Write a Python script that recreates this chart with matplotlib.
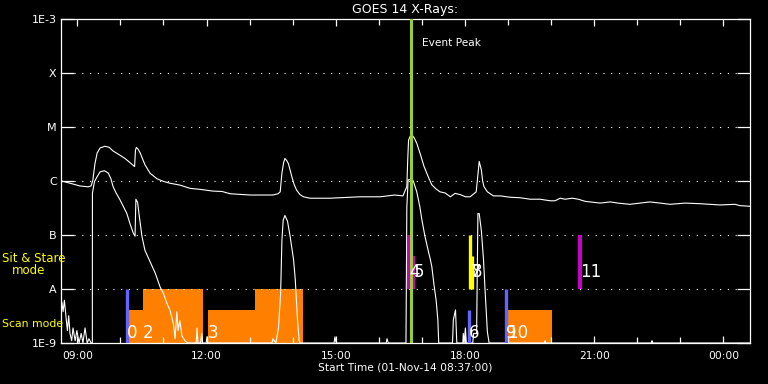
import matplotlib
matplotlib.use("Agg")
import matplotlib.pyplot as plt

# GOES 14 X-ray flux, 01-Nov-14 (time in decimal hours of the day, W/m^2)
long_t = [8.617, 8.83, 9.06, 9.25, 9.32, 9.36, 9.41, 9.46, 9.53, 9.64, 9.74, 9.83,
          9.99, 10.11, 10.22, 10.33, 10.35, 10.37, 10.41, 10.46, 10.57, 10.69, 10.85,
          10.99, 11.15, 11.38, 11.62, 11.85, 12.15, 12.36, 12.55, 13.01, 13.54, 13.66,
          13.71, 13.75, 13.79, 13.82, 13.86, 13.90, 13.94, 13.98, 14.03, 14.09, 14.17,
          14.25, 14.40, 14.87, 15.10, 15.56, 16.03, 16.37, 16.56, 16.65, 16.67, 16.69,
          16.73, 16.77, 16.82, 16.88, 16.96, 17.05, 17.16, 17.23, 17.33, 17.42, 17.54,
          17.66, 17.77, 17.89, 18.01, 18.12, 18.26, 18.30, 18.33, 18.38, 18.41, 18.44,
          18.52, 18.66, 18.82, 19.05, 19.28, 19.51, 19.74, 19.98, 20.09, 20.21, 20.32,
          20.49, 20.63, 20.79, 21.14, 21.37, 21.55, 21.83, 22.29, 22.53, 22.76, 23.11,
          23.45, 23.92, 24.27, 24.38, 24.62]
long_f = [1.01e-6, 9.1e-7, 8.1e-7, 7.8e-7, 8.1e-7, 1.03e-6, 2.1e-6, 3.3e-6, 4.1e-6,
          4.4e-6, 4.2e-6, 3.6e-6, 3.0e-6, 2.6e-6, 2.2e-6, 1.85e-6, 3.7e-6, 4.2e-6, 3.9e-6,
          3.3e-6, 2.0e-6, 1.39e-6, 1.1e-6, 9.9e-7, 9.1e-7, 8.4e-7, 7.3e-7, 7.0e-7, 6.5e-7,
          6.4e-7, 5.8e-7, 5.5e-7, 5.5e-7, 5.8e-7, 6.3e-7, 1.4e-6, 2.2e-6, 2.6e-6, 2.4e-6,
          2.1e-6, 1.6e-6, 1.2e-6, 8.8e-7, 6.8e-7, 5.6e-7, 5.1e-7, 4.8e-7, 4.8e-7, 4.9e-7,
          5.1e-7, 5.1e-7, 5.5e-7, 5.3e-7, 7.9e-7, 2.4e-6, 5.7e-6, 6.8e-6, 7.1e-6, 6.3e-6,
          5.0e-6, 3.2e-6, 1.85e-6, 1.13e-6, 8.5e-7, 7.1e-7, 6.3e-7, 6.0e-7, 5.1e-7, 5.9e-7,
          5.6e-7, 5.1e-7, 5.1e-7, 6.3e-7, 1.3e-6, 2.3e-6, 1.6e-6, 1.0e-6, 7.9e-7, 6.3e-7,
          5.3e-7, 5.3e-7, 5.0e-7, 4.9e-7, 4.6e-7, 4.6e-7, 4.3e-7, 4.3e-7, 4.8e-7, 4.6e-7,
          4.8e-7, 4.6e-7, 4.2e-7, 3.9e-7, 4.1e-7, 3.9e-7, 3.7e-7, 4.1e-7, 3.9e-7, 3.7e-7,
          3.9e-7, 3.8e-7, 3.6e-7, 3.7e-7, 3.5e-7, 3.4e-7]

short_t = [8.617, 8.64, 8.67, 8.70, 8.74, 8.77, 8.80, 8.83, 8.87, 8.90, 8.95, 8.99,
           9.04, 9.09, 9.13, 9.18, 9.23, 9.27, 9.32, 9.349, 9.351, 9.40, 9.46, 9.53,
           9.63, 9.72, 9.78, 9.83, 9.90, 9.99, 10.15, 10.22, 10.30, 10.34, 10.36, 10.40,
           10.44, 10.50, 10.57, 10.69, 10.81, 10.92, 11.00, 11.08, 11.15, 11.23, 11.27,
           11.31, 11.34, 11.38, 11.43, 11.50, 11.57, 11.76, 11.78, 11.80, 11.86, 11.89,
           11.91, 11.99, 12.01, 12.03, 13.52, 13.54, 13.61, 13.67, 13.72, 13.75, 13.78,
           13.82, 13.88, 13.94, 14.02, 14.06, 14.11, 14.15, 14.17, 14.96, 14.98, 15.01,
           16.17, 16.19, 16.22, 16.63, 16.65, 16.68, 16.77, 16.80, 16.88, 16.95, 17.00,
           17.07, 17.16, 17.19, 17.23, 17.28, 17.33, 17.37, 17.39, 17.71, 17.73, 17.78,
           17.81, 17.95, 17.96, 17.98, 18.01, 18.03, 18.18, 18.20, 18.27, 18.30, 18.33,
           18.38, 18.43, 18.47, 18.52, 18.56, 19.85, 19.86, 19.87, 22.33, 22.34, 22.35,
           24.62]
short_f = [4.1e-9, 5.8e-9, 3.8e-9, 6.2e-9, 2.9e-9, 1.7e-9, 3.2e-9, 1.5e-9, 1.1e-9,
           1.9e-9, 1.1e-9, 1.7e-9, 1e-9, 1.5e-9, 1e-9, 1.9e-9, 1e-9, 1.2e-9, 1e-9, 1e-9,
           6.0e-7, 9.8e-7, 1.2e-6, 1.48e-6, 1.55e-6, 1.4e-6, 1.1e-6, 7.9e-7, 6.0e-7, 4.5e-7,
           2.5e-7, 1.65e-7, 1.08e-7, 9.5e-8, 4.6e-7, 4.0e-7, 2.2e-7, 9.5e-8, 5.2e-8, 3.2e-8,
           1.96e-8, 1.1e-8, 8.3e-9, 5.4e-9, 4.1e-9, 2.3e-9, 1.2e-9, 3.8e-9, 1.7e-9, 2.6e-9,
           1.35e-9, 1.1e-9, 1e-9, 1e-9, 1.9e-9, 1e-9, 1e-9, 1.5e-9, 1e-9, 1e-9, 1.3e-9,
           1e-9, 1e-9, 1.2e-9, 1e-9, 1.9e-9, 8.3e-9, 8.1e-8, 1.9e-7, 2.3e-7, 1.8e-7, 9.5e-8,
           3.5e-8, 1.5e-8, 2.8e-9, 1.1e-9, 1e-9, 1e-9, 1.3e-9, 1e-9, 1e-9, 1.2e-9, 1e-9,
           1e-9, 3.3e-7, 1.05e-6, 1.07e-6, 1.0e-6, 6.3e-7, 3.4e-7, 1.9e-7, 9.5e-8, 4.6e-8,
           3.7e-8, 2.6e-8, 1.2e-8, 6.2e-9, 2.7e-9, 1e-9, 1e-9, 2.7e-9, 4.1e-9, 1e-9, 1e-9,
           1.5e-9, 1e-9, 1.9e-9, 1e-9, 1e-9, 1.5e-9, 1.5e-9, 2.5e-7, 2.5e-7, 1.2e-7, 3.5e-8,
           8.3e-9, 1.6e-9, 1e-9, 1e-9, 1.1e-9, 1e-9, 1e-9, 1.1e-9, 1e-9, 1e-9]

peak_time = 16.74

# scan mode blocks (orange)
scan_start = [10.18, 10.525, 12.035, 13.13, 18.98]
scan_end = [11.91, 11.91, 14.24, 14.24, 20.02]
scan_top = [4.08e-9, 1e-8, 4.08e-9, 1e-8, 4.08e-9]

# observation markers
mark_t = [10.16, 16.71, 16.80, 18.09, 18.12, 18.16, 18.96, 20.67]
mark_lo = [1e-9, 1e-8, 1e-8, 1e-9, 1e-8, 1e-8, 1e-9, 1e-8]
mark_hi = [1e-8, 1e-7, 4.08e-8, 4.08e-9, 1e-7, 4.08e-8, 1e-8, 1e-7]
mark_col = ["#6464ff", "#c800c8", "#c800c8", "#6464ff", "#ffff00", "#ffff00",
            "#6464ff", "#c800c8"]

num_text = ["0", "2", "3", "4", "5", "6", "7", "8", "9", "10", "11"]
num_t = [10.16, 10.525, 12.035, 16.71, 16.80, 18.09, 18.12, 18.16, 18.96, 18.98, 20.67]
num_row = ["lo", "lo", "lo", "hi", "hi", "lo", "hi", "hi", "lo", "lo", "hi"]

levels = [1e-9, 1e-8, 1e-7, 1e-6, 1e-5, 1e-4, 1e-3]
level_names = ["1E-9", "A", "B", "C", "M", "X", "1E-3"]
hour_ticks = [9, 12, 15, 18, 21, 24]
hour_names = ["09:00", "12:00", "15:00", "18:00", "21:00", "00:00"]

fig = plt.figure(figsize=(7.68, 3.84), dpi=100, facecolor="black")
ax = fig.add_axes([60.8 / 768, 41 / 384, 689.2 / 768, 324 / 384])
ax.set_facecolor("black")
ax.set_yscale("log")
ax.set_xlim(8.6167, 24.6167)
ax.set_ylim(1e-9, 1e-3)

for s, e, top in zip(scan_start, scan_end, scan_top):
    ax.bar(s, top - 1e-9, width=e - s, bottom=1e-9, align="edge",
           color="#ff8000", linewidth=0, zorder=1)

for lv in levels[1:-1]:
    ax.plot([0.019, 0.981], [lv, lv], transform=ax.get_yaxis_transform(),
            color="white", lw=0.8, dashes=(1, 6), zorder=1.5)

ax.plot(long_t, long_f, color="white", lw=0.8, zorder=3)
ax.plot(short_t, short_f, color="white", lw=0.8, zorder=3)

for t, lo, hi, c in zip(mark_t, mark_lo, mark_hi, mark_col):
    ax.vlines(t, lo, hi, color=c, lw=2.4 if c != "#c800c8" else 2.9, zorder=4)

ax.axvline(peak_time, color="#9acd32", lw=2.2, zorder=5)
ax.annotate("Event Peak", (peak_time, 3.6e-4), xytext=(8, 0),
            textcoords="offset points", color="white", fontsize=7.6,
            va="center", ha="left")

for s, t, r in zip(num_text, num_t, num_row):
    ax.text(t, 1.53e-9 if r == "lo" else 2.07e-8, s, color="white",
            fontsize=12, va="center", ha="left", zorder=6)

for sp in ax.spines.values():
    sp.set_color("white")
    sp.set_linewidth(0.9)

ax.set_yticks(levels)
ax.set_yticklabels(level_names)
ax.yaxis.set_minor_locator(matplotlib.ticker.NullLocator())
ax.tick_params(axis="y", which="major", direction="in", length=9.4, width=0.9,
               color="white", labelcolor="white", labelsize=8, left=True,
               right=True, pad=3)
ax.set_xticks(hour_ticks)
ax.set_xticklabels(hour_names)
ax.set_xticks(range(9, 25), minor=True)
ax.tick_params(axis="x", which="major", direction="in", length=5, width=0.9,
               color="white", labelcolor="white", labelsize=7.7, top=True, pad=6)
ax.tick_params(axis="x", which="minor", direction="in", length=4, width=0.9,
               color="white", top=True)

fig.text(405 / 768, 1 - 10 / 384, "GOES 14 X-Rays:", color="white", fontsize=9,
         ha="center", va="center")
fig.text(405 / 768, 1 - 368 / 384, "Start Time (01-Nov-14 08:37:00)", color="white",
         fontsize=7.7, ha="center", va="center")
fig.text(2 / 768, 1 - 259 / 384, "Sit & Stare", color="yellow", fontsize=8.5,
         ha="left", va="center")
fig.text(12 / 768, 1 - 271 / 384, "mode", color="yellow", fontsize=8.5,
         ha="left", va="center")
fig.text(2 / 768, 1 - 324 / 384, "Scan mode", color="yellow", fontsize=7.8,
         ha="left", va="center")

fig.savefig("out.png", dpi=100, facecolor="black")
